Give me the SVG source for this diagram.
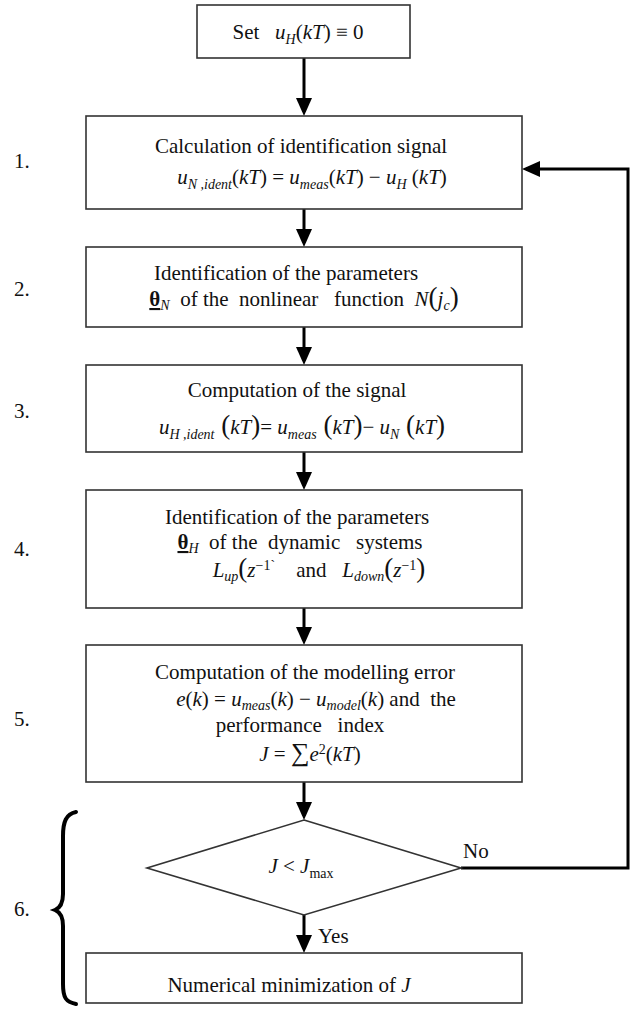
<svg xmlns="http://www.w3.org/2000/svg" width="638" height="1009" viewBox="0 0 638 1009">
<style>
.box{fill:#fff;stroke:#333;stroke-width:1.6}
.t{font-family:"Liberation Serif","Times New Roman",serif;font-size:21px;fill:#111;white-space:pre}
.m{text-anchor:middle}
.i{font-style:italic}
.s{font-style:italic;font-size:14px}
.su{font-size:14px}
.bp{font-size:27px}
.conn{stroke:#000;stroke-width:3;fill:none}
.brace{stroke:#000;stroke-width:4;fill:none;stroke-linecap:round}
</style>
<defs>
<marker id="ah" markerUnits="userSpaceOnUse" markerWidth="18" markerHeight="16" refX="14" refY="8" orient="auto">
<path d="M0,0 L18,8 L0,16 z" fill="#000"/>
</marker>
</defs>
<rect width="638" height="1009" fill="#fff"/>

<g id="connectors">
<line class="conn" x1="304" y1="58" x2="304" y2="112" marker-end="url(#ah)"/>
<line class="conn" x1="304" y1="209" x2="304" y2="243" marker-end="url(#ah)"/>
<line class="conn" x1="304" y1="327" x2="304" y2="361" marker-end="url(#ah)"/>
<line class="conn" x1="304" y1="452" x2="304" y2="486" marker-end="url(#ah)"/>
<line class="conn" x1="304" y1="608" x2="304" y2="641" marker-end="url(#ah)"/>
<line class="conn" x1="304" y1="782" x2="304" y2="816" marker-end="url(#ah)"/>
<line class="conn" x1="304" y1="915" x2="304" y2="949" marker-end="url(#ah)"/>
<path class="conn" d="M461,868 L628,868 L628,169 L526,169" marker-end="url(#ah)"/>
<text class="t" x="463" y="858">No</text>
<text class="t" x="318" y="943">Yes</text>
</g>

<g id="start">
<rect class="box" x="197" y="5" width="213" height="53"/>
<text class="t m" x="298" y="39">Set   <tspan class="i">u</tspan><tspan class="s" dy="5">H</tspan><tspan dy="-5">(</tspan><tspan class="i">kT</tspan>) ≡ 0</text>
</g>

<g id="step1">
<rect class="box" x="86" y="116" width="436" height="93"/>
<text class="t m" x="301" y="153">Calculation of identification signal</text>
<text class="t m" x="312" y="184"><tspan class="i">u</tspan><tspan class="s" dy="5">N ,ident</tspan><tspan dy="-5">(</tspan><tspan class="i">kT</tspan>) = <tspan class="i">u</tspan><tspan class="s" dy="5">meas</tspan><tspan dy="-5">(</tspan><tspan class="i">kT</tspan>) − <tspan class="i">u</tspan><tspan class="s" dy="5">H</tspan><tspan dy="-5"> (</tspan><tspan class="i">kT</tspan>)</text>
<text class="t" x="14" y="168">1.</text>
</g>

<g id="step2">
<rect class="box" x="86" y="247" width="436" height="80"/>
<text class="t m" x="286" y="280">Identification of the parameters</text>
<text class="t m" x="304" y="306"><tspan font-weight="bold" text-decoration="underline">θ</tspan><tspan class="s" dy="4">N</tspan><tspan dy="-4">  of the  nonlinear   function  </tspan><tspan class="i">N</tspan><tspan class="bp">(</tspan><tspan class="i">j</tspan><tspan class="s" dy="4">c</tspan><tspan class="bp" dy="-4">)</tspan></text>
<text class="t" x="14" y="296">2.</text>
</g>

<g id="step3">
<rect class="box" x="86" y="365" width="436" height="87"/>
<text class="t m" x="297" y="397">Computation of the signal</text>
<text class="t m" x="302" y="434"><tspan class="i">u</tspan><tspan class="s" dy="5">H ,ident</tspan><tspan class="bp" dy="-5"> (</tspan><tspan class="i">kT</tspan><tspan class="bp">)</tspan>= <tspan class="i">u</tspan><tspan class="s" dy="5">meas</tspan><tspan class="bp" dy="-5"> (</tspan><tspan class="i">kT</tspan><tspan class="bp">)</tspan>− <tspan class="i">u</tspan><tspan class="s" dy="5">N</tspan><tspan class="bp" dy="-5"> (</tspan><tspan class="i">kT</tspan><tspan class="bp">)</tspan></text>
<text class="t" x="14" y="418">3.</text>
</g>

<g id="step4">
<rect class="box" x="86" y="490" width="436" height="118"/>
<text class="t m" x="297" y="524">Identification of the parameters</text>
<text class="t m" x="300" y="549"><tspan font-weight="bold" text-decoration="underline">θ</tspan><tspan class="s" dy="4">H</tspan><tspan dy="-4">  of the  dynamic   systems</tspan></text>
<text class="t m" x="319" y="577"><tspan class="i">L</tspan><tspan class="s" dy="4">up</tspan><tspan class="bp" dy="-4">(</tspan><tspan class="i">z</tspan><tspan class="su" dy="-7">−1</tspan><tspan class="su">`</tspan><tspan dy="7">    and   </tspan><tspan class="i">L</tspan><tspan class="s" dy="4">down</tspan><tspan class="bp" dy="-4">(</tspan><tspan class="i">z</tspan><tspan class="su" dy="-7">−1</tspan><tspan class="bp" dy="7">)</tspan></text>
<text class="t" x="14" y="556">4.</text>
</g>

<g id="step5">
<rect class="box" x="86" y="645" width="436" height="137"/>
<text class="t m" x="305" y="679">Computation of the modelling error</text>
<text class="t m" x="316" y="706"><tspan class="i">e</tspan>(<tspan class="i">k</tspan>) = <tspan class="i">u</tspan><tspan class="s" dy="4">meas</tspan><tspan dy="-4">(</tspan><tspan class="i">k</tspan>) − <tspan class="i">u</tspan><tspan class="s" dy="4">model</tspan><tspan dy="-4">(</tspan><tspan class="i">k</tspan>) and  the</text>
<text class="t m" x="300" y="732">performance   index</text>
<text class="t m" x="310" y="761"><tspan class="i">J</tspan> = <tspan font-size="26">∑</tspan><tspan class="i">e</tspan><tspan class="su" dy="-7">2</tspan><tspan dy="7">(</tspan><tspan class="i">kT</tspan>)</text>
<text class="t" x="14" y="726">5.</text>
</g>

<g id="step6">
<polygon class="box" points="304,820 461,868 304,915 147,868"/>
<text class="t m" x="301" y="873"><tspan class="i">J</tspan> &lt; <tspan class="i">J</tspan><tspan class="su" dy="5">max</tspan></text>
<rect class="box" x="86" y="953" width="436" height="50"/>
<text class="t m" x="289" y="992">Numerical minimization of <tspan class="i">J</tspan></text>
<path class="brace" d="M76,812 C66,814 63,822 63,836 L63,894 C63,904 60,908 55,910 C60,912 63,916 63,926 L63,984 C63,998 66,1002 76,1004"/>
<text class="t" x="14" y="916">6.</text>
</g>
</svg>
